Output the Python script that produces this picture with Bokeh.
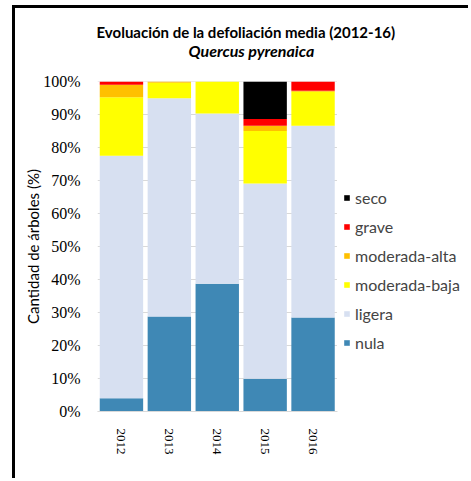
from bokeh.plotting import figure
from bokeh.models import (Legend, LegendItem, Title, PrintfTickFormatter,
                          FixedTicker, ColumnDataSource, Range1d)
from bokeh.embed import file_html
from bokeh.resources import INLINE

years = ["2012", "2013", "2014", "2015", "2016"]
nula = [4.0, 28.8, 38.7, 9.9, 28.5]
ligera = [73.5, 66.1, 51.6, 59.2, 58.1]
moderada_baja = [17.7, 4.7, 9.7, 15.9, 10.3]
moderada_alta = [3.8, 0.4, 0.0, 1.6, 0.3]
grave = [1.0, 0.0, 0.0, 2.0, 2.8]
seco = [0.0, 0.0, 0.0, 11.4, 0.0]
y_ticks = [0, 10, 20, 30, 40, 50, 60, 70, 80, 90, 100]

series = ["nula", "ligera", "moderada-baja", "moderada-alta", "grave", "seco"]
colors = ["#3f88b5", "#d7e0f1", "#ffff00", "#ffc000", "#ff0000", "#000000"]

xpos = list(range(len(years)))
source = ColumnDataSource(dict(x=xpos, **{
    "nula": nula, "ligera": ligera, "moderada-baja": moderada_baja,
    "moderada-alta": moderada_alta, "grave": grave, "seco": seco}))

W, H = 456, 473
FL, FT, FB = 82, 73, 70          # frame left / top / bottom margins (px)
frame_w = W - FL
pitch = 47.9                     # px per category
p = figure(x_range=Range1d(-0.5, -0.5 + frame_w / pitch), y_range=Range1d(0, 100),
           width=W, height=H,
           output_backend="svg", toolbar_location=None,
           min_border_left=FL, min_border_right=0, min_border_top=FT,
           min_border_bottom=FB)
p.styles = {"border-left": "3px solid black", "border-top": "3px solid black",
            "margin-left": "12px", "margin-top": "5px"}

p.outline_line_color = None
p.xgrid.grid_line_color = None
p.ygrid.grid_line_color = None

# horizontal gridlines limited to the bar area
p.segment(x0=[-0.5] * len(y_ticks), x1=[len(years) - 0.5] * len(y_ticks),
          y0=y_ticks, y1=y_ticks, line_color="#d9d9d9", line_width=1)

renderers = p.vbar_stack(series, x="x", width=0.906, color=colors,
                         line_color=None, source=source)

p.yaxis.ticker = FixedTicker(ticks=y_ticks)
p.yaxis.formatter = PrintfTickFormatter(format="%d%%")
p.yaxis.axis_line_color = None
p.yaxis.major_tick_line_color = None
p.yaxis.minor_tick_line_color = None
p.yaxis.major_label_text_font = "Liberation Serif"
p.yaxis.major_label_text_font_size = "16px"
p.yaxis.major_label_text_color = "#000000"
p.yaxis.major_label_standoff = 11
p.yaxis.axis_label = "Cantidad de árboles (%)"
p.yaxis.axis_label_text_font = "Lato"
p.yaxis.axis_label_text_font_style = "normal"
p.yaxis.axis_label_text_font_size = "15px"
p.yaxis.axis_label_text_color = "#000000"
p.yaxis.axis_label_standoff = -2

p.xaxis.ticker = FixedTicker(ticks=xpos)
p.xaxis.major_label_overrides = {i: y for i, y in zip(xpos, years)}
p.xaxis.bounds = (-0.5, len(years) - 0.5)
p.xaxis.axis_line_color = "#d9d9d9"
p.xaxis.major_tick_line_color = None
p.xaxis.minor_tick_line_color = None
p.xaxis.major_label_orientation = "vertical"
p.xaxis.major_label_text_font = "Liberation Serif"
p.xaxis.major_label_text_font_size = "13px"
p.xaxis.major_label_text_color = "#000000"
p.xaxis.major_label_standoff = 11

items = [LegendItem(label=s, renderers=[r]) for s, r in zip(series, renderers)]
legend = Legend(items=list(reversed(items)), location=(246, 59),
                glyph_width=7, glyph_height=7, label_standoff=5, spacing=9,
                label_height=20, label_text_font="Lato",
                label_text_font_size="16px", padding=0, margin=0,
                border_line_color=None, background_fill_alpha=0)
p.add_layout(legend)

# titles: spacer (closest to frame), subtitle, main title
p.add_layout(Title(text=" ", text_font_size="1px", standoff=17), "above")
p.add_layout(Title(text="Quercus pyrenaica", text_font="Lato",
                   text_font_style="bold italic", text_font_size="16px",
                   text_color="#000000", align="left", offset=91,
                   vertical_align="top", standoff=0), "above")
p.add_layout(Title(text="Evoluación de la defoliación media (2012-16)",
                   text_font="Lato", text_font_style="bold",
                   text_font_size="15px", text_color="#000000", align="left",
                   offset=-1, vertical_align="bottom", standoff=0), "above")

open("out.html", "w").write(file_html(p, INLINE))
